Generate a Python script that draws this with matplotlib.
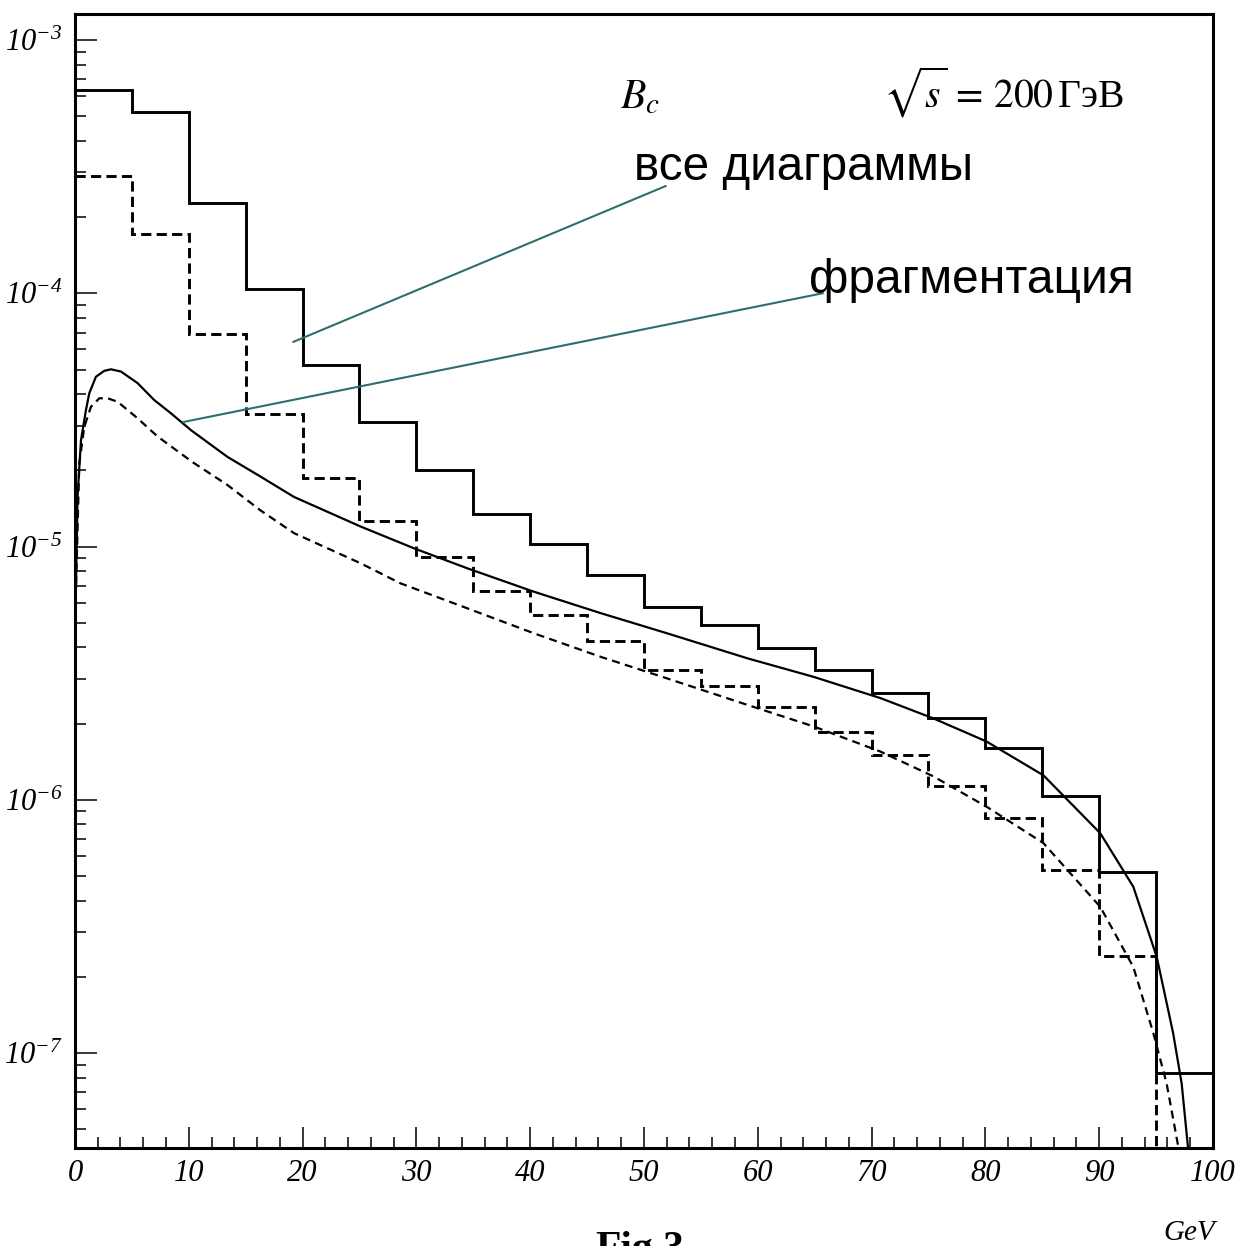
import numpy as np
import matplotlib
matplotlib.use("Agg")
import matplotlib.pyplot as plt

# B_c spectrum at sqrt(s) = 200 GeV: histograms (5 GeV bins) and fragmentation curves
bin_edges = [0, 5, 10, 15, 20, 25, 30, 35, 40, 45, 50,
             55, 60, 65, 70, 75, 80, 85, 90, 95, 100]

all_diagrams = [6.35e-4, 5.2e-4, 2.28e-4, 1.04e-4, 5.21e-5, 3.09e-5, 2.0e-5,
                1.35e-5, 1.02e-5, 7.69e-6, 5.78e-6, 4.90e-6, 3.98e-6, 3.27e-6,
                2.65e-6, 2.10e-6, 1.60e-6, 1.04e-6, 5.19e-7, 8.35e-8]

all_diagrams_2 = [2.91e-4, 1.71e-4, 6.90e-5, 3.33e-5, 1.87e-5, 1.26e-5, 9.12e-6,
                  6.70e-6, 5.37e-6, 4.24e-6, 3.27e-6, 2.81e-6, 2.33e-6, 1.86e-6,
                  1.50e-6, 1.13e-6, 8.5e-7, 5.3e-7, 2.42e-7, 1.0e-8]

frag_x = [0.05, 0.23, 0.53, 0.97, 1.26, 1.84, 2.57, 3.16, 4.04, 5.5, 6.96,
          8.43, 10.2, 13.4, 16.3, 19.25, 25.1, 29.8, 34.5, 40.3, 46.2, 52.0,
          59.1, 64.9, 70.8, 75.4, 80.1, 85.1, 90.1, 93.0, 95.06, 96.5, 97.25,
          97.8, 98.0]
frag_y = [5.62e-6, 1.58e-5, 2.63e-5, 3.47e-5, 4.03e-5, 4.68e-5, 4.94e-5,
          5.01e-5, 4.91e-5, 4.42e-5, 3.79e-5, 3.36e-5, 2.88e-5, 2.26e-5,
          1.89e-5, 1.57e-5, 1.20e-5, 9.84e-6, 8.20e-6, 6.64e-6, 5.46e-6,
          4.55e-6, 3.62e-6, 3.06e-6, 2.52e-6, 2.10e-6, 1.70e-6, 1.25e-6,
          7.38e-7, 4.54e-7, 2.40e-7, 1.20e-7, 7.59e-8, 4.28e-8, 3.0e-8]

frag2_x = [0.1, 0.38, 0.82, 1.40, 2.14, 2.87, 3.75, 5.5, 7.26, 10.3, 13.4,
           16.3, 19.25, 25.1, 28.6, 34.5, 40.3, 46.2, 52.0, 59.1, 64.9, 70.8,
           75.4, 80.1, 85.1, 90.1, 93.0, 94.76, 95.93, 96.95, 97.1]
frag2_y = [7.08e-6, 2.13e-5, 2.97e-5, 3.56e-5, 3.85e-5, 3.85e-5, 3.73e-5,
           3.21e-5, 2.72e-5, 2.16e-5, 1.75e-5, 1.39e-5, 1.13e-5, 8.59e-6,
           7.16e-6, 5.70e-6, 4.55e-6, 3.67e-6, 3.02e-6, 2.37e-6, 1.95e-6,
           1.55e-6, 1.24e-6, 9.40e-7, 6.75e-7, 3.78e-7, 2.19e-7, 1.20e-7,
           7.59e-8, 4.28e-8, 3.0e-8]

xticks = [0, 10, 20, 30, 40, 50, 60, 70, 80, 90, 100]
ydecades = [-7, -6, -5, -4, -3]

plt.rcParams['font.family'] = 'Liberation Serif'
plt.rcParams['mathtext.fontset'] = 'custom'
plt.rcParams['mathtext.rm'] = 'Liberation Serif:italic'
plt.rcParams['mathtext.it'] = 'Liberation Serif:italic'

fig = plt.figure(figsize=(12.41, 12.46), dpi=100)
ax = fig.add_axes([0.0604, 0.0784, 0.9170, 0.9104])

ax.stairs(all_diagrams, bin_edges, baseline=None, color='black', lw=2.1)
ax.stairs(all_diagrams_2, bin_edges, baseline=None, color='black', lw=2.1,
          linestyle=(0, (3.5, 1.8)))
ax.plot(frag_x, frag_y, color='black', lw=1.6)
ax.plot(frag2_x, frag2_y, color='black', lw=1.6, linestyle=(0, (3.6, 2.4)))

ax.set_yscale('log')
ax.set_xlim(0, 100)
ax.set_ylim(4.21e-8, 1.267e-3)

for s in ax.spines.values():
    s.set_linewidth(2.2)

ax.set_xticks(xticks, labels=[str(v) for v in xticks])
ax.set_xticks(np.arange(0, 101, 2), minor=True)
ax.set_yticks([10.0 ** e for e in ydecades],
              labels=[f'$10^{{{e}}}$' for e in ydecades])
ax.yaxis.set_minor_locator(matplotlib.ticker.LogLocator(base=10, subs=np.arange(2, 10)))
ax.yaxis.set_minor_formatter(matplotlib.ticker.NullFormatter())

ax.tick_params(which='both', direction='in', top=False, right=False, width=1.1)
ax.tick_params(axis='y', which='major', length=16, pad=9, labelsize=22)
ax.tick_params(axis='y', which='minor', length=8)
ax.tick_params(axis='x', which='major', length=15, pad=8, labelsize=22)
ax.tick_params(axis='x', which='minor', length=8)
for lab in ax.get_xticklabels():
    lab.set_fontstyle('italic')

# labels on the plot
ax.text(0.479, 0.917, r'$B_c$', transform=ax.transAxes, fontsize=30,
        math_fontfamily='stix', ha='left', va='baseline')
ax.text(0.71, 0.917, r'$\sqrt{s}\, =\, 200\,$ГэВ', transform=ax.transAxes,
        fontsize=28.5, math_fontfamily='stix', ha='left', va='baseline')
ax.text(0.491, 0.854, 'все диаграммы', transform=ax.transAxes, fontsize=34.3,
        family='Liberation Sans', ha='left', va='baseline')
ax.text(0.645, 0.754, 'фрагментация', transform=ax.transAxes, fontsize=34.5,
        family='Liberation Sans', ha='left', va='baseline')

# pointer lines
teal = '#2f6e6d'
ax.plot([19.2, 51.9], [6.43e-5, 2.65e-4], color=teal, lw=1.5, clip_on=False)
ax.plot([9.48, 65.7], [3.10e-5, 1.0e-4], color=teal, lw=1.5, clip_on=False)

fig.text(1215 / 1241, 1 - 1240 / 1246, 'GeV', fontsize=21, fontstyle='italic',
         ha='right', va='baseline')
fig.text(640 / 1241, 1 - 1231 / 1246, 'Fig.3', fontsize=30, fontweight='bold',
         ha='center', va='top')

fig.savefig('out.png', dpi=100)
